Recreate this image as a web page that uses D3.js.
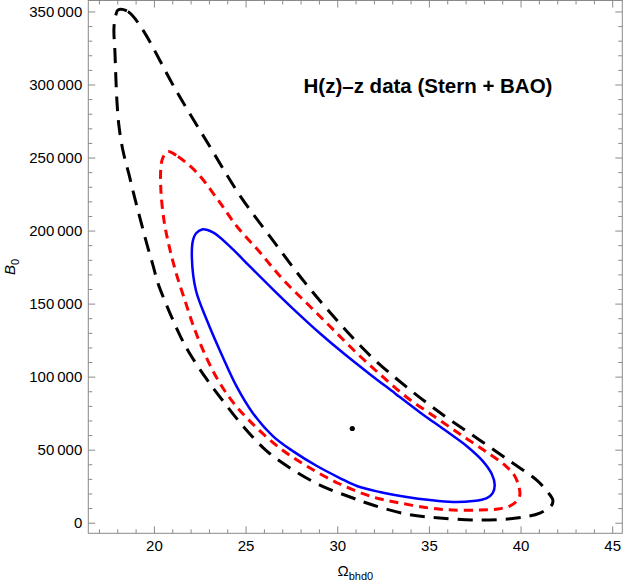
<!DOCTYPE html>
<html>
<head>
<meta charset="utf-8">
<script src="https://cdn.jsdelivr.net/npm/d3@7"></script>
<style>
  body { margin: 0; background: #fff; }
  svg { display: block; font-family: "Liberation Sans", Arial, sans-serif; }
</style>
</head>
<body>
<svg id="chart" width="625" height="581"></svg>
<script>
// contour levels: [Omega_bhd0, B0]
var contour3sigma = [
  [18.04, 351000], [18.58, 350000], [19.35, 338200], [21.15, 297200], [23.05, 257500],
  [24.69, 224000], [26.49, 193300], [28.23, 164500], [29.98, 138600], [31.78, 114600],
  [33.79, 92800], [35.87, 72900], [37.78, 56500], [39.41, 42200], [40.88, 29200],
  [41.48, 21000], [41.76, 15500], [41.70, 12100], [41.05, 6600], [39.79, 3200],
  [37.78, 1800], [35.59, 3200], [33.79, 5900], [31.94, 12100], [30.85, 16900],
  [29.05, 25800], [27.52, 36700], [26.16, 49000], [24.91, 65400], [23.82, 82500],
  [22.84, 98900], [21.91, 116700], [21.47, 126900], [21.09, 137200], [20.65, 150200],
  [20.22, 163900], [19.95, 176200], [19.62, 190500], [19.29, 206200], [18.96, 222000],
  [18.64, 238400], [18.31, 254800], [18.09, 271900], [17.98, 289000], [17.87, 323100],
  [17.82, 338900], [17.93, 347800]
];

var contour2sigma = [
  [20.76, 254100], [21.31, 250700], [22.34, 239700], [23.44, 222000], [24.53, 202800],
  [25.78, 185100], [27.03, 166600], [28.34, 150200], [29.60, 134500], [30.96, 117400],
  [32.38, 101000], [33.79, 85900], [35.43, 71600], [36.85, 59300], [38.16, 48300],
  [39.14, 39400], [39.68, 32000], [39.90, 25100], [39.96, 18900], [39.79, 14800],
  [39.41, 11400], [38.76, 9400], [37.78, 8700], [36.30, 8700], [35.05, 10000],
  [33.41, 13500], [31.94, 17600], [30.14, 26500], [28.34, 38800], [26.87, 51100],
  [25.40, 67500], [24.31, 82500], [23.44, 98900], [22.73, 116700], [22.18, 133800],
  [21.69, 152200], [21.20, 171400], [20.82, 189800], [20.55, 206900], [20.38, 227400],
  [20.38, 243200], [20.49, 250000]
];

var contour1sigma = [
  [22.62, 200800], [23.22, 198700], [24.14, 189200], [25.23, 175500], [26.49, 159800],
  [27.74, 144700], [29.05, 129700], [30.41, 115300], [31.78, 101700], [33.14, 88700],
  [34.50, 75700], [35.87, 63400], [37.07, 52400], [37.94, 42200], [38.43, 33300],
  [38.59, 25800], [38.48, 20300], [38.16, 16900], [37.39, 14800], [36.30, 14200],
  [35.05, 15500], [33.79, 17600], [32.32, 21000], [31.07, 25100], [30.14, 30600],
  [28.89, 38800], [27.58, 49000], [26.49, 59300], [25.40, 75000], [24.53, 92800],
  [23.76, 113300], [22.89, 138600], [22.29, 159100], [22.07, 181600], [22.13, 193300],
  [22.29, 198000]
];

var bestFit = [30.82, 64500];

var xMajor = [20, 25, 30, 35, 40, 45];
var yMajor = [0, 50000, 100000, 150000, 200000, 250000, 300000, 350000];
var xMinor = d3.range(17, 46, 1).filter(function (d) { return d % 5 != 0; });
var yMinor = d3.range(10000, 360000, 10000).filter(function (d) { return d % 50000 != 0; });

var svg = d3.select("#chart");

var frameLeft = 88.3, frameRight = 622.3, frameTop = 0.5, frameBottom = 533.3;

var x = d3.scaleLinear().domain([16.42, 45.55]).range([frameLeft, frameRight]);
var y = d3.scaleLinear().domain([-7250, 357500]).range([frameBottom, frameTop]);

var frameColor = "#8a8a8a";

// contours
var line = d3.line()
  .x(function (d) { return x(d[0]); })
  .y(function (d) { return y(d[1]); })
  .curve(d3.curveCatmullRomClosed.alpha(0.5));

var plot = svg.append("g").attr("class", "contours");

plot.append("path")
  .attr("d", line(contour3sigma))
  .style("fill", "none")
  .style("stroke", "#000")
  .style("stroke-width", 3)
  .style("stroke-dasharray", "15,9");

plot.append("path")
  .attr("d", line(contour2sigma))
  .style("fill", "none")
  .style("stroke", "#ff0000")
  .style("stroke-width", 3)
  .style("stroke-dasharray", "9,6");

plot.append("path")
  .attr("d", line(contour1sigma))
  .style("fill", "none")
  .style("stroke", "#0000ff")
  .style("stroke-width", 2.5);

plot.append("circle")
  .attr("cx", x(bestFit[0]))
  .attr("cy", y(bestFit[1]))
  .attr("r", 2.6)
  .style("fill", "#000");

// frame ticks
function styleAxis(g) {
  g.select(".domain").remove();
  g.selectAll("line").style("stroke", frameColor).style("stroke-width", 1);
  g.selectAll("text")
    .style("font-size", "15px")
    .style("fill", "#000")
    .attr("font-family", '"Liberation Sans", Arial, sans-serif');
}

var fmt = function (d) {
  return d3.format(",")(d).replace(/,/g, "\u2009");
};

svg.append("g").attr("transform", "translate(0," + frameBottom + ")")
  .call(d3.axisBottom(x).tickValues(xMajor).tickSize(-7).tickPadding(7).tickFormat(d3.format("d")))
  .call(styleAxis);
svg.append("g").attr("transform", "translate(0," + frameBottom + ")")
  .call(d3.axisBottom(x).tickValues(xMinor).tickSize(-4).tickFormat(""))
  .call(styleAxis);
svg.append("g").attr("transform", "translate(0," + frameTop + ")")
  .call(d3.axisTop(x).tickValues(xMajor).tickSize(-7).tickFormat(""))
  .call(styleAxis);
svg.append("g").attr("transform", "translate(0," + frameTop + ")")
  .call(d3.axisTop(x).tickValues(xMinor).tickSize(-4).tickFormat(""))
  .call(styleAxis);

svg.append("g").attr("transform", "translate(" + frameLeft + ",0)")
  .call(d3.axisLeft(y).tickValues(yMajor).tickSize(-7).tickPadding(6).tickFormat(fmt))
  .call(styleAxis);
svg.append("g").attr("transform", "translate(" + frameLeft + ",0)")
  .call(d3.axisLeft(y).tickValues(yMinor).tickSize(-4).tickFormat(""))
  .call(styleAxis);
svg.append("g").attr("transform", "translate(" + frameRight + ",0)")
  .call(d3.axisRight(y).tickValues(yMajor).tickSize(-7).tickFormat(""))
  .call(styleAxis);
svg.append("g").attr("transform", "translate(" + frameRight + ",0)")
  .call(d3.axisRight(y).tickValues(yMinor).tickSize(-4).tickFormat(""))
  .call(styleAxis);

svg.append("rect")
  .attr("x", frameLeft)
  .attr("y", frameTop)
  .attr("width", frameRight - frameLeft)
  .attr("height", frameBottom - frameTop)
  .style("fill", "none")
  .style("stroke", frameColor)
  .style("stroke-width", 1);

// labels
var xLabel = svg.append("text")
  .attr("x", (frameLeft + frameRight) / 2)
  .attr("y", 576)
  .style("text-anchor", "middle")
  .style("font-size", "15px");
xLabel.append("tspan").text("\u03A9");
xLabel.append("tspan").attr("dy", 4).style("font-size", "11px").text("bhd0");

var yLabel = svg.append("text")
  .attr("transform", "translate(15," + ((frameTop + frameBottom) / 2) + ") rotate(-90)")
  .style("text-anchor", "middle")
  .style("font-size", "15px");
yLabel.append("tspan").style("font-style", "italic").text("B");
yLabel.append("tspan").attr("dy", 4).style("font-size", "11px").text("0");

svg.append("text")
  .attr("x", 428)
  .attr("y", 93)
  .style("text-anchor", "middle")
  .style("font-size", "20.5px")
  .style("font-weight", "bold")
  .text("H(z)\u2013z data (Stern + BAO)");
</script>
</body>
</html>
